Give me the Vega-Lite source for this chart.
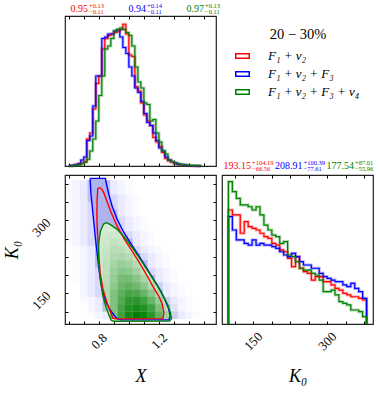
{
"$schema":"https://vega.github.io/schema/vega-lite/v6.json",
"padding":{"left":3,"top":2,"right":2,"bottom":2},
"background":"white",
"config":{"view":{"stroke":"#222","strokeWidth":1.2},"font":"Liberation Serif",
"axis":{"domain":false,"grid":false,"tickSize":3,"offset":-3,"tickColor":"#000","labelFont":"Liberation Serif","labelFontSize":13,"labelColor":"#000","titleFont":"Liberation Serif","titleFontSize":18,"titleFontStyle":"italic","titleFontWeight":"normal","titleColor":"#000","labelOverlap":false,"labelFlush":false}},
"datasets":{
"st":[{"p":"X","m":"m1","med":"0.95","hi":"+0.13","lo":"−0.11"},{"p":"X","m":"m2","med":"0.94","hi":"+0.14","lo":"−0.11"},{"p":"X","m":"m3","med":"0.97","hi":"+0.13","lo":"−0.11"},{"p":"K","m":"m1","med":"193.15","hi":"+104.19","lo":"−66.56"},{"p":"K","m":"m2","med":"208.91","hi":"+100.39","lo":"−77.61"},{"p":"K","m":"m3","med":"177.54","hi":"+87.01","lo":"−55.96"}],
"hx":[
{"m":"m1","x":0.60,"h":0.002},{"m":"m1","x":0.62,"h":0.004},{"m":"m1","x":0.64,"h":0.008},{"m":"m1","x":0.66,"h":0.013},{"m":"m1","x":0.68,"h":0.02},{"m":"m1","x":0.70,"h":0.03},{"m":"m1","x":0.72,"h":0.18},{"m":"m1","x":0.74,"h":0.22},{"m":"m1","x":0.76,"h":0.38},{"m":"m1","x":0.78,"h":0.55},{"m":"m1","x":0.80,"h":0.6},{"m":"m1","x":0.82,"h":0.78},{"m":"m1","x":0.84,"h":0.85},{"m":"m1","x":0.86,"h":0.87},{"m":"m1","x":0.88,"h":0.88},{"m":"m1","x":0.90,"h":0.89},{"m":"m1","x":0.92,"h":0.9},{"m":"m1","x":0.94,"h":0.91},{"m":"m1","x":0.96,"h":0.945},{"m":"m1","x":0.98,"h":0.88},{"m":"m1","x":1.00,"h":0.74},{"m":"m1","x":1.02,"h":0.73},{"m":"m1","x":1.04,"h":0.53},{"m":"m1","x":1.06,"h":0.5},{"m":"m1","x":1.08,"h":0.42},{"m":"m1","x":1.10,"h":0.34},{"m":"m1","x":1.12,"h":0.3},{"m":"m1","x":1.14,"h":0.27},{"m":"m1","x":1.16,"h":0.19},{"m":"m1","x":1.18,"h":0.16},{"m":"m1","x":1.20,"h":0.13},{"m":"m1","x":1.22,"h":0.09},{"m":"m1","x":1.24,"h":0.05},{"m":"m1","x":1.26,"h":0.035},{"m":"m1","x":1.28,"h":0.025},{"m":"m1","x":1.30,"h":0.017},{"m":"m1","x":1.32,"h":0.012},{"m":"m1","x":1.34,"h":0.008},{"m":"m1","x":1.36,"h":0.005},{"m":"m1","x":1.38,"h":0.004},{"m":"m1","x":1.40,"h":0.002},{"m":"m1","x":1.42,"h":0.001},{"m":"m1","x":1.44,"h":0.001},{"m":"m1","x":1.46,"h":0},{"m":"m1","x":1.48,"h":0},
{"m":"m2","x":0.60,"h":0.002},{"m":"m2","x":0.62,"h":0.004},{"m":"m2","x":0.64,"h":0.008},{"m":"m2","x":0.66,"h":0.015},{"m":"m2","x":0.68,"h":0.04},{"m":"m2","x":0.70,"h":0.06},{"m":"m2","x":0.72,"h":0.17},{"m":"m2","x":0.74,"h":0.2},{"m":"m2","x":0.76,"h":0.4},{"m":"m2","x":0.78,"h":0.6},{"m":"m2","x":0.80,"h":0.6},{"m":"m2","x":0.82,"h":0.85},{"m":"m2","x":0.84,"h":0.86},{"m":"m2","x":0.86,"h":0.88},{"m":"m2","x":0.88,"h":0.88},{"m":"m2","x":0.90,"h":0.9},{"m":"m2","x":0.92,"h":0.91},{"m":"m2","x":0.94,"h":0.86},{"m":"m2","x":0.96,"h":0.79},{"m":"m2","x":0.98,"h":0.75},{"m":"m2","x":1.00,"h":0.66},{"m":"m2","x":1.02,"h":0.6},{"m":"m2","x":1.04,"h":0.52},{"m":"m2","x":1.06,"h":0.49},{"m":"m2","x":1.08,"h":0.43},{"m":"m2","x":1.10,"h":0.35},{"m":"m2","x":1.12,"h":0.29},{"m":"m2","x":1.14,"h":0.27},{"m":"m2","x":1.16,"h":0.22},{"m":"m2","x":1.18,"h":0.17},{"m":"m2","x":1.20,"h":0.12},{"m":"m2","x":1.22,"h":0.1},{"m":"m2","x":1.24,"h":0.06},{"m":"m2","x":1.26,"h":0.04},{"m":"m2","x":1.28,"h":0.03},{"m":"m2","x":1.30,"h":0.02},{"m":"m2","x":1.32,"h":0.012},{"m":"m2","x":1.34,"h":0.01},{"m":"m2","x":1.36,"h":0.006},{"m":"m2","x":1.38,"h":0.004},{"m":"m2","x":1.40,"h":0.003},{"m":"m2","x":1.42,"h":0.002},{"m":"m2","x":1.44,"h":0.001},{"m":"m2","x":1.46,"h":0},{"m":"m2","x":1.48,"h":0},
{"m":"m3","x":0.60,"h":0},{"m":"m3","x":0.62,"h":0.002},{"m":"m3","x":0.64,"h":0.004},{"m":"m3","x":0.66,"h":0.008},{"m":"m3","x":0.68,"h":0.015},{"m":"m3","x":0.70,"h":0.025},{"m":"m3","x":0.72,"h":0.045},{"m":"m3","x":0.74,"h":0.1},{"m":"m3","x":0.76,"h":0.18},{"m":"m3","x":0.78,"h":0.3},{"m":"m3","x":0.80,"h":0.47},{"m":"m3","x":0.82,"h":0.6},{"m":"m3","x":0.84,"h":0.78},{"m":"m3","x":0.86,"h":0.8},{"m":"m3","x":0.88,"h":0.85},{"m":"m3","x":0.90,"h":0.9},{"m":"m3","x":0.92,"h":0.91},{"m":"m3","x":0.94,"h":0.92},{"m":"m3","x":0.96,"h":0.91},{"m":"m3","x":0.98,"h":0.89},{"m":"m3","x":1.00,"h":0.87},{"m":"m3","x":1.02,"h":0.8},{"m":"m3","x":1.04,"h":0.66},{"m":"m3","x":1.06,"h":0.56},{"m":"m3","x":1.08,"h":0.52},{"m":"m3","x":1.10,"h":0.42},{"m":"m3","x":1.12,"h":0.41},{"m":"m3","x":1.14,"h":0.3},{"m":"m3","x":1.16,"h":0.31},{"m":"m3","x":1.18,"h":0.22},{"m":"m3","x":1.20,"h":0.16},{"m":"m3","x":1.22,"h":0.1},{"m":"m3","x":1.24,"h":0.08},{"m":"m3","x":1.26,"h":0.04},{"m":"m3","x":1.28,"h":0.03},{"m":"m3","x":1.30,"h":0.02},{"m":"m3","x":1.32,"h":0.015},{"m":"m3","x":1.34,"h":0.01},{"m":"m3","x":1.36,"h":0.007},{"m":"m3","x":1.38,"h":0.005},{"m":"m3","x":1.40,"h":0.004},{"m":"m3","x":1.42,"h":0.003},{"m":"m3","x":1.44,"h":0.002},{"m":"m3","x":1.46,"h":0.001},{"m":"m3","x":1.48,"h":0}
],
"hk":[
{"m":"m1","k":100,"h":0},{"m":"m1","k":100,"h":0.765},{"m":"m1","k":108,"h":0.732},{"m":"m1","k":116,"h":0.732},{"m":"m1","k":124,"h":0.609},{"m":"m1","k":132,"h":0.687},{"m":"m1","k":140,"h":0.653},{"m":"m1","k":148,"h":0.642},{"m":"m1","k":156,"h":0.631},{"m":"m1","k":164,"h":0.609},{"m":"m1","k":172,"h":0.586},{"m":"m1","k":180,"h":0.575},{"m":"m1","k":188,"h":0.541},{"m":"m1","k":196,"h":0.53},{"m":"m1","k":204,"h":0.497},{"m":"m1","k":212,"h":0.485},{"m":"m1","k":220,"h":0.441},{"m":"m1","k":228,"h":0.385},{"m":"m1","k":236,"h":0.452},{"m":"m1","k":244,"h":0.374},{"m":"m1","k":252,"h":0.351},{"m":"m1","k":260,"h":0.34},{"m":"m1","k":268,"h":0.295},{"m":"m1","k":276,"h":0.318},{"m":"m1","k":284,"h":0.318},{"m":"m1","k":292,"h":0.284},{"m":"m1","k":300,"h":0.284},{"m":"m1","k":308,"h":0.262},{"m":"m1","k":316,"h":0.239},{"m":"m1","k":324,"h":0.228},{"m":"m1","k":332,"h":0.206},{"m":"m1","k":340,"h":0.195},{"m":"m1","k":348,"h":0.183},{"m":"m1","k":356,"h":0.183},{"m":"m1","k":364,"h":0.172},{"m":"m1","k":372,"h":0.161},{"m":"m1","k":380,"h":0.161},{"m":"m1","k":380,"h":0},
{"m":"m2","k":100,"h":0},{"m":"m2","k":100,"h":0.72},{"m":"m2","k":108,"h":0.631},{"m":"m2","k":116,"h":0.564},{"m":"m2","k":124,"h":0.564},{"m":"m2","k":132,"h":0.541},{"m":"m2","k":140,"h":0.53},{"m":"m2","k":148,"h":0.564},{"m":"m2","k":156,"h":0.53},{"m":"m2","k":164,"h":0.541},{"m":"m2","k":172,"h":0.53},{"m":"m2","k":180,"h":0.53},{"m":"m2","k":188,"h":0.519},{"m":"m2","k":196,"h":0.508},{"m":"m2","k":204,"h":0.485},{"m":"m2","k":212,"h":0.463},{"m":"m2","k":220,"h":0.452},{"m":"m2","k":228,"h":0.474},{"m":"m2","k":236,"h":0.452},{"m":"m2","k":244,"h":0.418},{"m":"m2","k":252,"h":0.396},{"m":"m2","k":260,"h":0.396},{"m":"m2","k":268,"h":0.374},{"m":"m2","k":276,"h":0.374},{"m":"m2","k":284,"h":0.34},{"m":"m2","k":292,"h":0.318},{"m":"m2","k":300,"h":0.306},{"m":"m2","k":308,"h":0.295},{"m":"m2","k":316,"h":0.284},{"m":"m2","k":324,"h":0.284},{"m":"m2","k":332,"h":0.262},{"m":"m2","k":340,"h":0.251},{"m":"m2","k":348,"h":0.273},{"m":"m2","k":356,"h":0.239},{"m":"m2","k":364,"h":0.217},{"m":"m2","k":372,"h":0.172},{"m":"m2","k":380,"h":0.172},{"m":"m2","k":380,"h":0},
{"m":"m3","k":100,"h":0},{"m":"m3","k":100,"h":0.955},{"m":"m3","k":108,"h":0.888},{"m":"m3","k":116,"h":0.843},{"m":"m3","k":124,"h":0.799},{"m":"m3","k":132,"h":0.799},{"m":"m3","k":140,"h":0.787},{"m":"m3","k":148,"h":0.765},{"m":"m3","k":156,"h":0.787},{"m":"m3","k":164,"h":0.732},{"m":"m3","k":172,"h":0.664},{"m":"m3","k":180,"h":0.631},{"m":"m3","k":188,"h":0.597},{"m":"m3","k":196,"h":0.586},{"m":"m3","k":204,"h":0.541},{"m":"m3","k":212,"h":0.553},{"m":"m3","k":220,"h":0.463},{"m":"m3","k":228,"h":0.452},{"m":"m3","k":236,"h":0.418},{"m":"m3","k":244,"h":0.374},{"m":"m3","k":252,"h":0.362},{"m":"m3","k":260,"h":0.362},{"m":"m3","k":268,"h":0.34},{"m":"m3","k":276,"h":0.329},{"m":"m3","k":284,"h":0.295},{"m":"m3","k":292,"h":0.217},{"m":"m3","k":300,"h":0.217},{"m":"m3","k":308,"h":0.228},{"m":"m3","k":316,"h":0.195},{"m":"m3","k":324,"h":0.15},{"m":"m3","k":332,"h":0.139},{"m":"m3","k":340,"h":0.128},{"m":"m3","k":348,"h":0.094},{"m":"m3","k":356,"h":0.094},{"m":"m3","k":364,"h":0.083},{"m":"m3","k":372,"h":0.049},{"m":"m3","k":380,"h":0.049},{"m":"m3","k":380,"h":0}
],
"haze":[
{"x":0.6,"k":375,"b":0.015},{"x":0.65,"k":375,"b":0.04},{"x":0.7,"k":375,"b":0.08},{"x":0.75,"k":375,"b":0.25},{"x":0.8,"k":375,"b":0.25},{"x":0.85,"k":375,"b":0.25},{"x":0.9,"k":375,"b":0.08},{"x":0.95,"k":375,"b":0.04},{"x":1.0,"k":375,"b":0.015},
{"x":0.6,"k":360,"b":0.015},{"x":0.65,"k":360,"b":0.04},{"x":0.7,"k":360,"b":0.08},{"x":0.75,"k":360,"b":0.25},{"x":0.8,"k":360,"b":0.25},{"x":0.85,"k":360,"b":0.25},{"x":0.9,"k":360,"b":0.08},{"x":0.95,"k":360,"b":0.04},{"x":1.0,"k":360,"b":0.015},
{"x":0.6,"k":345,"b":0.015},{"x":0.65,"k":345,"b":0.04},{"x":0.7,"k":345,"b":0.08},{"x":0.75,"k":345,"b":0.25},{"x":0.8,"k":345,"b":0.25},{"x":0.85,"k":345,"b":0.25},{"x":0.9,"k":345,"b":0.15},{"x":0.95,"k":345,"b":0.08},{"x":1.0,"k":345,"b":0.04},{"x":1.05,"k":345,"b":0.015},
{"x":0.6,"k":330,"b":0.015},{"x":0.65,"k":330,"b":0.04},{"x":0.7,"k":330,"b":0.08},{"x":0.75,"k":330,"b":0.15},{"x":0.8,"k":330,"b":0.25},{"x":0.85,"k":330,"b":0.25},{"x":0.9,"k":330,"b":0.15},{"x":0.95,"k":330,"b":0.08},{"x":1.0,"k":330,"b":0.04},{"x":1.05,"k":330,"b":0.015},
{"x":0.6,"k":315,"b":0.015},{"x":0.65,"k":315,"b":0.04},{"x":0.7,"k":315,"b":0.08},{"x":0.75,"k":315,"b":0.15},{"x":0.8,"k":315,"b":0.25},{"x":0.85,"k":315,"b":0.25},{"x":0.9,"k":315,"b":0.25},{"x":0.95,"k":315,"b":0.08},{"x":1.0,"k":315,"b":0.04},{"x":1.05,"k":315,"b":0.015},
{"x":0.6,"k":300,"b":0.015},{"x":0.65,"k":300,"b":0.04},{"x":0.7,"k":300,"b":0.08},{"x":0.75,"k":300,"b":0.15},{"x":0.8,"k":300,"b":0.25},{"x":0.85,"k":300,"b":0.25},{"x":0.9,"k":300,"b":0.25},{"x":0.95,"k":300,"b":0.15},{"x":1.0,"k":300,"b":0.08},{"x":1.05,"k":300,"b":0.04},{"x":1.1,"k":300,"b":0.015},
{"x":0.6,"k":285,"b":0.015},{"x":0.65,"k":285,"b":0.04},{"x":0.7,"k":285,"b":0.08},{"x":0.75,"k":285,"b":0.15},{"x":0.8,"k":285,"b":0.25},{"x":0.85,"k":285,"b":0.25},{"x":0.9,"k":285,"b":0.25},{"x":0.95,"k":285,"b":0.15},{"x":1.0,"k":285,"b":0.08},{"x":1.05,"k":285,"b":0.04},{"x":1.1,"k":285,"b":0.015},
{"x":0.6,"k":270,"b":0.015},{"x":0.65,"k":270,"b":0.04},{"x":0.7,"k":270,"b":0.08},{"x":0.75,"k":270,"b":0.15},{"x":0.8,"k":270,"b":0.25},{"x":0.85,"k":270,"b":0.25},{"x":0.9,"k":270,"b":0.25},{"x":0.95,"k":270,"b":0.25},{"x":1.0,"k":270,"b":0.15},{"x":1.05,"k":270,"b":0.08},{"x":1.1,"k":270,"b":0.04},{"x":1.15,"k":270,"b":0.015},
{"x":0.6,"k":255,"b":0.015},{"x":0.65,"k":255,"b":0.04},{"x":0.7,"k":255,"b":0.08},{"x":0.75,"k":255,"b":0.15},{"x":0.8,"k":255,"b":0.25},{"x":0.85,"k":255,"b":0.25},{"x":0.9,"k":255,"b":0.25},{"x":0.95,"k":255,"b":0.25},{"x":1.0,"k":255,"b":0.25},{"x":1.05,"k":255,"b":0.08},{"x":1.1,"k":255,"b":0.04},{"x":1.15,"k":255,"b":0.015},
{"x":0.65,"k":240,"b":0.015},{"x":0.7,"k":240,"b":0.04},{"x":0.75,"k":240,"b":0.08},{"x":0.8,"k":240,"b":0.25},{"x":0.85,"k":240,"b":0.25},{"x":0.9,"k":240,"b":0.25},{"x":0.95,"k":240,"b":0.25},{"x":1.0,"k":240,"b":0.25},{"x":1.05,"k":240,"b":0.15},{"x":1.1,"k":240,"b":0.08},{"x":1.15,"k":240,"b":0.04},{"x":1.2,"k":240,"b":0.015},
{"x":0.65,"k":225,"b":0.015},{"x":0.7,"k":225,"b":0.04},{"x":0.75,"k":225,"b":0.08},{"x":0.8,"k":225,"b":0.25},{"x":0.85,"k":225,"b":0.25},{"x":0.9,"k":225,"b":0.25},{"x":0.95,"k":225,"b":0.25},{"x":1.0,"k":225,"b":0.25},{"x":1.05,"k":225,"b":0.25},{"x":1.1,"k":225,"b":0.15},{"x":1.15,"k":225,"b":0.08},{"x":1.2,"k":225,"b":0.04},{"x":1.25,"k":225,"b":0.015},
{"x":0.65,"k":210,"b":0.015},{"x":0.7,"k":210,"b":0.04},{"x":0.75,"k":210,"b":0.08},{"x":0.8,"k":210,"b":0.25},{"x":0.85,"k":210,"b":0.25},{"x":0.9,"k":210,"b":0.25},{"x":0.95,"k":210,"b":0.25},{"x":1.0,"k":210,"b":0.25},{"x":1.05,"k":210,"b":0.25},{"x":1.1,"k":210,"b":0.25},{"x":1.15,"k":210,"b":0.08},{"x":1.2,"k":210,"b":0.04},{"x":1.25,"k":210,"b":0.015},
{"x":0.65,"k":195,"b":0.015},{"x":0.7,"k":195,"b":0.04},{"x":0.75,"k":195,"b":0.08},{"x":0.8,"k":195,"b":0.15},{"x":0.85,"k":195,"b":0.25},{"x":0.9,"k":195,"b":0.25},{"x":0.95,"k":195,"b":0.25},{"x":1.0,"k":195,"b":0.25},{"x":1.05,"k":195,"b":0.25},{"x":1.1,"k":195,"b":0.25},{"x":1.15,"k":195,"b":0.15},{"x":1.2,"k":195,"b":0.08},{"x":1.25,"k":195,"b":0.04},{"x":1.3,"k":195,"b":0.015},
{"x":0.65,"k":180,"b":0.015},{"x":0.7,"k":180,"b":0.04},{"x":0.75,"k":180,"b":0.08},{"x":0.8,"k":180,"b":0.15},{"x":0.85,"k":180,"b":0.25},{"x":0.9,"k":180,"b":0.25},{"x":0.95,"k":180,"b":0.25},{"x":1.0,"k":180,"b":0.25},{"x":1.05,"k":180,"b":0.25},{"x":1.1,"k":180,"b":0.25},{"x":1.15,"k":180,"b":0.25},{"x":1.2,"k":180,"b":0.08},{"x":1.25,"k":180,"b":0.04},{"x":1.3,"k":180,"b":0.015},
{"x":0.7,"k":165,"b":0.04},{"x":0.75,"k":165,"b":0.08},{"x":0.8,"k":165,"b":0.15},{"x":0.85,"k":165,"b":0.25},{"x":0.9,"k":165,"b":0.25},{"x":0.95,"k":165,"b":0.25},{"x":1.0,"k":165,"b":0.25},{"x":1.05,"k":165,"b":0.25},{"x":1.1,"k":165,"b":0.25},{"x":1.15,"k":165,"b":0.25},{"x":1.2,"k":165,"b":0.15},{"x":1.25,"k":165,"b":0.08},{"x":1.3,"k":165,"b":0.04},{"x":1.35,"k":165,"b":0.015},
{"x":0.7,"k":150,"b":0.04},{"x":0.75,"k":150,"b":0.08},{"x":0.8,"k":150,"b":0.15},{"x":0.85,"k":150,"b":0.25},{"x":0.9,"k":150,"b":0.25},{"x":0.95,"k":150,"b":0.25},{"x":1.0,"k":150,"b":0.25},{"x":1.05,"k":150,"b":0.25},{"x":1.1,"k":150,"b":0.25},{"x":1.15,"k":150,"b":0.25},{"x":1.2,"k":150,"b":0.25},{"x":1.25,"k":150,"b":0.08},{"x":1.3,"k":150,"b":0.04},{"x":1.35,"k":150,"b":0.015},
{"x":0.7,"k":135,"b":0.015},{"x":0.75,"k":135,"b":0.04},{"x":0.8,"k":135,"b":0.08},{"x":0.85,"k":135,"b":0.25},{"x":0.9,"k":135,"b":0.25},{"x":0.95,"k":135,"b":0.25},{"x":1.0,"k":135,"b":0.25},{"x":1.05,"k":135,"b":0.25},{"x":1.1,"k":135,"b":0.25},{"x":1.15,"k":135,"b":0.25},{"x":1.2,"k":135,"b":0.25},{"x":1.25,"k":135,"b":0.15},{"x":1.3,"k":135,"b":0.08},{"x":1.35,"k":135,"b":0.04},{"x":1.4,"k":135,"b":0.015},
{"x":0.75,"k":120,"b":0.04},{"x":0.8,"k":120,"b":0.08},{"x":0.85,"k":120,"b":0.15},{"x":0.9,"k":120,"b":0.25},{"x":0.95,"k":120,"b":0.25},{"x":1.0,"k":120,"b":0.25},{"x":1.05,"k":120,"b":0.25},{"x":1.1,"k":120,"b":0.25},{"x":1.15,"k":120,"b":0.25},{"x":1.2,"k":120,"b":0.25},{"x":1.25,"k":120,"b":0.25},{"x":1.3,"k":120,"b":0.08},{"x":1.35,"k":120,"b":0.04},{"x":1.4,"k":120,"b":0.015},
{"x":0.75,"k":105,"b":0.015},{"x":0.8,"k":105,"b":0.04},{"x":0.85,"k":105,"b":0.08},{"x":0.9,"k":105,"b":0.25},{"x":0.95,"k":105,"b":0.25},{"x":1.0,"k":105,"b":0.25},{"x":1.05,"k":105,"b":0.25},{"x":1.1,"k":105,"b":0.25},{"x":1.15,"k":105,"b":0.25},{"x":1.2,"k":105,"b":0.25},{"x":1.25,"k":105,"b":0.25},{"x":1.3,"k":105,"b":0.15},{"x":1.35,"k":105,"b":0.08},{"x":1.4,"k":105,"b":0.04},{"x":1.45,"k":105,"b":0.015}
],
"dens":[
{"x":0.9,"k":105,"g":0.4},{"x":0.95,"k":105,"g":0.7},{"x":1.0,"k":105,"g":0.9},{"x":1.05,"k":105,"g":1.0},{"x":1.1,"k":105,"g":0.95},{"x":1.15,"k":105,"g":0.8},{"x":1.2,"k":105,"g":0.55},{"x":1.25,"k":105,"g":0.25},{"x":1.3,"k":105,"g":0.08},
{"x":0.85,"k":120,"g":0.18},{"x":0.9,"k":120,"g":0.4},{"x":0.95,"k":120,"g":0.68},{"x":1.0,"k":120,"g":0.85},{"x":1.05,"k":120,"g":0.9},{"x":1.1,"k":120,"g":0.85},{"x":1.15,"k":120,"g":0.7},{"x":1.2,"k":120,"g":0.42},{"x":1.25,"k":120,"g":0.15},{"x":1.3,"k":120,"g":0.05},
{"x":0.85,"k":135,"g":0.18},{"x":0.9,"k":135,"g":0.4},{"x":0.95,"k":135,"g":0.62},{"x":1.0,"k":135,"g":0.78},{"x":1.05,"k":135,"g":0.8},{"x":1.1,"k":135,"g":0.7},{"x":1.15,"k":135,"g":0.52},{"x":1.2,"k":135,"g":0.3},{"x":1.25,"k":135,"g":0.08},
{"x":0.85,"k":150,"g":0.18},{"x":0.9,"k":150,"g":0.4},{"x":0.95,"k":150,"g":0.56},{"x":1.0,"k":150,"g":0.66},{"x":1.05,"k":150,"g":0.64},{"x":1.1,"k":150,"g":0.52},{"x":1.15,"k":150,"g":0.36},{"x":1.2,"k":150,"g":0.15},
{"x":0.85,"k":165,"g":0.16},{"x":0.9,"k":165,"g":0.34},{"x":0.95,"k":165,"g":0.5},{"x":1.0,"k":165,"g":0.54},{"x":1.05,"k":165,"g":0.48},{"x":1.1,"k":165,"g":0.36},{"x":1.15,"k":165,"g":0.2},{"x":1.2,"k":165,"g":0.05},
{"x":0.85,"k":180,"g":0.14},{"x":0.9,"k":180,"g":0.3},{"x":0.95,"k":180,"g":0.44},{"x":1.0,"k":180,"g":0.45},{"x":1.05,"k":180,"g":0.36},{"x":1.1,"k":180,"g":0.22},{"x":1.15,"k":180,"g":0.1},
{"x":0.85,"k":195,"g":0.13},{"x":0.9,"k":195,"g":0.27},{"x":0.95,"k":195,"g":0.37},{"x":1.0,"k":195,"g":0.34},{"x":1.05,"k":195,"g":0.25},{"x":1.1,"k":195,"g":0.12},
{"x":0.8,"k":210,"g":0.05},{"x":0.85,"k":210,"g":0.12},{"x":0.9,"k":210,"g":0.23},{"x":0.95,"k":210,"g":0.29},{"x":1.0,"k":210,"g":0.25},{"x":1.05,"k":210,"g":0.15},{"x":1.1,"k":210,"g":0.05},
{"x":0.8,"k":225,"g":0.05},{"x":0.85,"k":225,"g":0.1},{"x":0.9,"k":225,"g":0.18},{"x":0.95,"k":225,"g":0.2},{"x":1.0,"k":225,"g":0.15},{"x":1.05,"k":225,"g":0.08},
{"x":0.8,"k":240,"g":0.04},{"x":0.85,"k":240,"g":0.08},{"x":0.9,"k":240,"g":0.14},{"x":0.95,"k":240,"g":0.14},{"x":1.0,"k":240,"g":0.08},
{"x":0.8,"k":255,"g":0.03},{"x":0.85,"k":255,"g":0.06},{"x":0.9,"k":255,"g":0.1},{"x":0.95,"k":255,"g":0.08},{"x":1.0,"k":255,"g":0.03},
{"x":0.85,"k":270,"g":0.04},{"x":0.9,"k":270,"g":0.05},{"x":0.95,"k":270,"g":0.03},
{"x":0.85,"k":285,"g":0.02}
],
"cont":[
{"m":"m2","i":0,"x":0.742,"k":386},{"m":"m2","i":1,"x":0.747,"k":357},{"m":"m2","i":2,"x":0.756,"k":329},{"m":"m2","i":3,"x":0.767,"k":295},{"m":"m2","i":4,"x":0.778,"k":261},{"m":"m2","i":5,"x":0.791,"k":227},{"m":"m2","i":6,"x":0.804,"k":193},{"m":"m2","i":7,"x":0.822,"k":159},{"m":"m2","i":8,"x":0.844,"k":135},{"m":"m2","i":9,"x":0.871,"k":118},{"m":"m2","i":10,"x":0.904,"k":104},{"m":"m2","i":11,"x":0.927,"k":97},{"m":"m2","i":12,"x":0.95,"k":95.5},{"m":"m2","i":13,"x":1.267,"k":95.5},{"m":"m2","i":14,"x":1.276,"k":104},{"m":"m2","i":15,"x":1.262,"k":121},{"m":"m2","i":16,"x":1.238,"k":138},{"m":"m2","i":17,"x":1.204,"k":159},{"m":"m2","i":18,"x":1.164,"k":179},{"m":"m2","i":19,"x":1.116,"k":203},{"m":"m2","i":20,"x":1.067,"k":227},{"m":"m2","i":21,"x":1.016,"k":251},{"m":"m2","i":22,"x":0.967,"k":275},{"m":"m2","i":23,"x":0.922,"k":302},{"m":"m2","i":24,"x":0.889,"k":329},{"m":"m2","i":25,"x":0.867,"k":353},{"m":"m2","i":26,"x":0.851,"k":374},{"m":"m2","i":27,"x":0.844,"k":386},{"m":"m2","i":28,"x":0.742,"k":386},
{"m":"m1","i":0,"x":0.809,"k":367},{"m":"m1","i":1,"x":0.793,"k":365},{"m":"m1","i":2,"x":0.789,"k":343},{"m":"m1","i":3,"x":0.787,"k":309},{"m":"m1","i":4,"x":0.791,"k":275},{"m":"m1","i":5,"x":0.798,"k":234},{"m":"m1","i":6,"x":0.809,"k":193},{"m":"m1","i":7,"x":0.827,"k":159},{"m":"m1","i":8,"x":0.853,"k":132},{"m":"m1","i":9,"x":0.878,"k":111},{"m":"m1","i":10,"x":0.893,"k":99},{"m":"m1","i":11,"x":0.91,"k":97.5},{"m":"m1","i":12,"x":1.227,"k":98},{"m":"m1","i":13,"x":1.233,"k":111},{"m":"m1","i":14,"x":1.222,"k":128},{"m":"m1","i":15,"x":1.198,"k":145},{"m":"m1","i":16,"x":1.164,"k":162},{"m":"m1","i":17,"x":1.127,"k":183},{"m":"m1","i":18,"x":1.082,"k":207},{"m":"m1","i":19,"x":1.027,"k":234},{"m":"m1","i":20,"x":0.971,"k":261},{"m":"m1","i":21,"x":0.922,"k":288},{"m":"m1","i":22,"x":0.882,"k":316},{"m":"m1","i":23,"x":0.853,"k":340},{"m":"m1","i":24,"x":0.831,"k":358},{"m":"m1","i":25,"x":0.822,"k":363},{"m":"m1","i":26,"x":0.809,"k":367},
{"m":"m3","i":0,"x":0.849,"k":295},{"m":"m3","i":1,"x":0.831,"k":292},{"m":"m3","i":2,"x":0.811,"k":278},{"m":"m3","i":3,"x":0.8,"k":254},{"m":"m3","i":4,"x":0.798,"k":220},{"m":"m3","i":5,"x":0.809,"k":179},{"m":"m3","i":6,"x":0.827,"k":145},{"m":"m3","i":7,"x":0.849,"k":121},{"m":"m3","i":8,"x":0.871,"k":103},{"m":"m3","i":9,"x":0.882,"k":95},{"m":"m3","i":10,"x":0.9,"k":92.5},{"m":"m3","i":11,"x":1.271,"k":93},{"m":"m3","i":12,"x":1.284,"k":97.5},{"m":"m3","i":13,"x":1.276,"k":111},{"m":"m3","i":14,"x":1.256,"k":128},{"m":"m3","i":15,"x":1.222,"k":149},{"m":"m3","i":16,"x":1.182,"k":169},{"m":"m3","i":17,"x":1.133,"k":193},{"m":"m3","i":18,"x":1.082,"k":217},{"m":"m3","i":19,"x":1.027,"k":242},{"m":"m3","i":20,"x":0.971,"k":265},{"m":"m3","i":21,"x":0.92,"k":282},{"m":"m3","i":22,"x":0.882,"k":290},{"m":"m3","i":23,"x":0.871,"k":292},{"m":"m3","i":24,"x":0.849,"k":295}
]
},
"columns":2,
"spacing":{"row":9,"column":6},
"bounds":"flush",
"resolve":{"scale":{"x":"independent","y":"independent","color":"shared"},"legend":{"color":"independent"}},
"concat":[
{"width":151,"height":150,
 "resolve":{"scale":{"x":"independent"}},
 "layer":[
  {"data":{"name":"hx"},"mark":{"type":"line","interpolate":"step-after","strokeWidth":3,"opacity":0.3},
   "encoding":{"x":{"field":"x","type":"quantitative","scale":{"domain":[0.575,1.58],"nice":false,"zero":false},"axis":{"orient":"top","title":null,"values":[0.6,0.7,0.8,0.9,1.0,1.1,1.2,1.3,1.4,1.5],"labels":false}},
    "y":{"field":"h","type":"quantitative","scale":{"domain":[0,1],"nice":false},"axis":null},
    "color":{"field":"m","type":"nominal","scale":{"domain":["m1","m2","m3"],"range":["#ff0000","#0000ff","#008000"]},"legend":null}}},
  {"data":{"name":"hx"},"mark":{"type":"line","interpolate":"step-after","strokeWidth":1.2},
   "encoding":{"x":{"field":"x","type":"quantitative","scale":{"domain":[0.575,1.58],"nice":false,"zero":false},"axis":{"title":null,"values":[0.6,0.7,0.8,0.9,1.0,1.1,1.2,1.3,1.4,1.5],"labels":false}},
    "y":{"field":"h","type":"quantitative","scale":{"domain":[0,1],"nice":false},"axis":null},
    "color":{"field":"m","type":"nominal","scale":{"domain":["m1","m2","m3"],"range":["#ff0000","#0000ff","#008000"]},"legend":null}}},
  {"data":{"name":"st"},"transform":[{"filter":"datum.p=='X'"}],"mark":{"type":"text","align":"right","baseline":"alphabetic","dy":-4,"fontSize":10},
   "encoding":{"x":{"field":"m","type":"nominal","scale":{"type":"point","domain":["m1","m2","m3"],"range":[23,139],"padding":0},"axis":null},"y":{"datum":1},"text":{"field":"med"},"color":{"field":"m","type":"nominal","legend":null}}},
  {"data":{"name":"st"},"transform":[{"filter":"datum.p=='X'"}],"mark":{"type":"text","align":"left","baseline":"alphabetic","dx":1,"dy":-8,"fontSize":6.5},
   "encoding":{"x":{"field":"m","type":"nominal","scale":{"type":"point","domain":["m1","m2","m3"],"range":[23,139],"padding":0},"axis":null},"y":{"datum":1},"text":{"field":"hi"},"color":{"field":"m","type":"nominal","legend":null}}},
  {"data":{"name":"st"},"transform":[{"filter":"datum.p=='X'"}],"mark":{"type":"text","align":"left","baseline":"alphabetic","dx":1,"dy":-2,"fontSize":6.5},
   "encoding":{"x":{"field":"m","type":"nominal","scale":{"type":"point","domain":["m1","m2","m3"],"range":[23,139],"padding":0},"axis":null},"y":{"datum":1},"text":{"field":"lo"},"color":{"field":"m","type":"nominal","legend":null}}}
 ]},
{"width":151,"height":150,"view":{"stroke":null},
 "data":{"name":"st"},"transform":[{"filter":"datum.p=='X'"}],
 "mark":{"type":"point","filled":false,"size":1,"strokeWidth":0},
 "encoding":{"color":{"field":"m","type":"nominal","scale":{"domain":["m1","m2","m3"],"range":["#ff0000","#0000ff","#008000"]},
   "legend":{"title":"20 − 30%","orient":"none","legendX":14,"legendY":12,"titleFont":"Liberation Serif","titleFontSize":14.5,"titleFontWeight":"normal","titleColor":"#000","titleAnchor":"middle","titlePadding":7,"labelFont":"Liberation Serif","labelFontSize":13,"labelFontStyle":"italic","labelColor":"#000","labelOffset":19,"symbolType":"M-1.5,-0.5H1.5V0.5H-1.5Z","symbolSize":81,"symbolStrokeWidth":1.5,"symbolOpacity":1,"symbolFillColor":"transparent","rowPadding":4,
   "encode":{"symbols":{"update":{"opacity":{"value":1},"fill":{"value":"transparent"},"strokeWidth":{"value":1.5}}}},
   "labelExpr":"{'m1':'F₁ + v₂','m2':'F₁ + v₂ + F₃','m3':'F₁ + v₂ + F₃ + v₄'}[datum.label]"}}}},
{"width":151,"height":149,
 "resolve":{"axis":{"x":"independent","y":"independent"}},
 "layer":[
  {"data":{"name":"haze"},"mark":{"type":"rect","width":7.6,"height":7.4,"color":"#0000ff"},
   "encoding":{"x":{"field":"x","type":"quantitative","scale":{"domain":[0.575,1.58],"nice":false,"zero":false},
     "axis":{"title":"X","values":[0.6,0.7,0.8,0.9,1.0,1.1,1.2,1.3,1.4,1.5],"labelExpr":"datum.value==0.8||datum.value==1.2?datum.label:''","labelAngle":-45,"labelAlign":"center","labelBaseline":"middle","labelPadding":17,"titlePadding":16}},
    "y":{"field":"k","type":"quantitative","scale":{"domain":[87,393],"nice":false,"zero":false},
     "axis":{"title":"K₀","values":[112.5,150,187.5,225,262.5,300,337.5,375],"labelExpr":"datum.value==150||datum.value==300?datum.label:''","labelAngle":-45,"labelAlign":"right","labelBaseline":"middle","labelPadding":17,"titlePadding":8}},
    "opacity":{"field":"b","type":"quantitative","scale":null}}},
  {"data":{"name":"cont"},"transform":[{"filter":"datum.m=='m2'"}],"mark":{"type":"line","fill":"#aeb3ee","stroke":"#aeb3ee","strokeWidth":0},
   "encoding":{"x":{"field":"x","type":"quantitative","axis":null},"y":{"field":"k","type":"quantitative","axis":null},"order":{"field":"i","type":"quantitative"}}},
  {"data":{"name":"cont"},"transform":[{"filter":"datum.m=='m3'"}],"mark":{"type":"line","fill":"#d8eed8","stroke":"#d8eed8","strokeWidth":0},
   "encoding":{"x":{"field":"x","type":"quantitative","axis":null},"y":{"field":"k","type":"quantitative","axis":null},"order":{"field":"i","type":"quantitative"}}},
  {"data":{"name":"dens"},"mark":{"type":"rect","width":7.6,"height":7.4,"color":"#008000"},
   "encoding":{"x":{"field":"x","type":"quantitative","axis":null},"y":{"field":"k","type":"quantitative","axis":null},"opacity":{"field":"g","type":"quantitative","scale":null}}},
  {"data":{"name":"cont"},"mark":{"type":"line","strokeWidth":1.4},
   "encoding":{"x":{"field":"x","type":"quantitative","axis":{"orient":"top","title":null,"labels":false,"values":[0.6,0.7,0.8,0.9,1.0,1.1,1.2,1.3,1.4,1.5]}},
    "y":{"field":"k","type":"quantitative","axis":{"orient":"right","title":null,"labels":false,"values":[112.5,150,187.5,225,262.5,300,337.5,375]}},
    "order":{"field":"i","type":"quantitative"},"detail":{"field":"m"},"color":{"field":"m","type":"nominal","scale":{"domain":["m1","m2","m3"],"range":["#ff0000","#0000ff","#008000"]},"legend":null}}}
 ]},
{"width":151,"height":149,
 "resolve":{"scale":{"x":"independent"}},
 "layer":[
  {"data":{"name":"hk"},"mark":{"type":"line","interpolate":"step-after","strokeWidth":3,"opacity":0.3},
   "encoding":{"x":{"field":"k","type":"quantitative","scale":{"domain":[87,393],"nice":false,"zero":false},"axis":{"orient":"top","title":null,"labels":false,"values":[112.5,150,187.5,225,262.5,300,337.5,375]}},
    "y":{"field":"h","type":"quantitative","scale":{"domain":[0,1],"nice":false},"axis":null},
    "color":{"field":"m","type":"nominal","scale":{"domain":["m1","m2","m3"],"range":["#ff0000","#0000ff","#008000"]},"legend":null}}},
  {"data":{"name":"hk"},"mark":{"type":"line","interpolate":"step-after","strokeWidth":1.2},
   "encoding":{"x":{"field":"k","type":"quantitative","scale":{"domain":[87,393],"nice":false,"zero":false},"axis":{"title":"K₀","values":[112.5,150,187.5,225,262.5,300,337.5,375],"labelExpr":"datum.value==150||datum.value==300?datum.label:''","labelAngle":-45,"labelAlign":"center","labelBaseline":"middle","labelPadding":17,"titlePadding":15}},
    "y":{"field":"h","type":"quantitative","scale":{"domain":[0,1],"nice":false},"axis":null},
    "color":{"field":"m","type":"nominal","scale":{"domain":["m1","m2","m3"],"range":["#ff0000","#0000ff","#008000"]},"legend":null}}},
  {"data":{"name":"st"},"transform":[{"filter":"datum.p=='K'"}],"mark":{"type":"text","align":"right","baseline":"alphabetic","dy":-6.5,"fontSize":10},
   "encoding":{"x":{"field":"m","type":"nominal","scale":{"type":"point","domain":["m1","m2","m3"],"range":[29,132],"padding":0},"axis":null},"y":{"datum":1},"text":{"field":"med"},"color":{"field":"m","type":"nominal","legend":null}}},
  {"data":{"name":"st"},"transform":[{"filter":"datum.p=='K'"}],"mark":{"type":"text","align":"left","baseline":"alphabetic","dx":1,"dy":-10,"fontSize":6.5},
   "encoding":{"x":{"field":"m","type":"nominal","scale":{"type":"point","domain":["m1","m2","m3"],"range":[29,132],"padding":0},"axis":null},"y":{"datum":1},"text":{"field":"hi"},"color":{"field":"m","type":"nominal","legend":null}}},
  {"data":{"name":"st"},"transform":[{"filter":"datum.p=='K'"}],"mark":{"type":"text","align":"left","baseline":"alphabetic","dx":1,"dy":-4.5,"fontSize":6.5},
   "encoding":{"x":{"field":"m","type":"nominal","scale":{"type":"point","domain":["m1","m2","m3"],"range":[29,132],"padding":0},"axis":null},"y":{"datum":1},"text":{"field":"lo"},"color":{"field":"m","type":"nominal","legend":null}}}
 ]}
]
}
